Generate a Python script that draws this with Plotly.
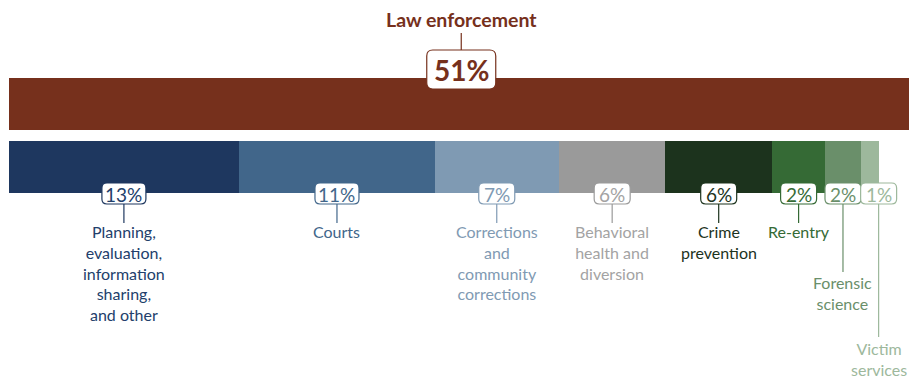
import plotly.graph_objects as go

# ---------------- data ----------------
top_category = "Law enforcement"
top_share = 51
top_pct_label = "51%"

categories = [
    "Planning,<br>evaluation,<br>information<br>sharing,<br>and other",
    "Courts",
    "Corrections<br>and<br>community<br>corrections",
    "Behavioral<br>health and<br>diversion",
    "Crime<br>prevention",
    "Re-entry",
    "Forensic<br>science",
    "Victim<br>services",
]
shares = [13, 11, 7, 6, 6, 3, 2, 1]
pct_labels = ["13%", "11%", "7%", "6%", "6%", "2%", "2%", "1%"]

# ---------------- styles ----------------
top_color = "#76301C"
seg_colors = ["#1E375F", "#41668A", "#7F9AB3", "#9A9A9A", "#1C331D", "#356A35", "#6A8F6A", "#9DB89C"]
text_colors = ["#22406B", "#41668A", "#7F9AB3", "#A3A3A3", "#1C331D", "#356A35", "#6A8F6A", "#9DB89C"]
FONT = "Lato, 'Open Sans', sans-serif"

W, H = 909, 381
X0PX = 8.5
PX = 17.755  # pixels per percentage point
xr = [-X0PX / PX, (W - X0PX) / PX]

TOP_Y, ROW_Y, BAR_H = 104, 167, 52
line_end = [223, 223, 223, 223, 223, 223, 272, 337]
text_top = [219.5, 219.5, 219.5, 219.5, 219.5, 219.5, 271, 337]
pill_nudge_px = [0, 0, 0, 0, 0, 0, 0, 9]

fig = go.Figure()

# top bar
fig.add_trace(go.Bar(orientation="h", y=[TOP_Y], x=[top_share], base=[0], width=BAR_H,
                     marker=dict(color=top_color, line=dict(width=0)), hoverinfo="skip", showlegend=False))

# second row stacked segments
bases = []
acc = 0
for s in shares:
    bases.append(acc)
    acc += s
for i, (s, b) in enumerate(zip(shares, bases)):
    fig.add_trace(go.Bar(orientation="h", y=[ROW_Y], x=[s], base=[b], width=BAR_H,
                         marker=dict(color=seg_colors[i], line=dict(width=0)),
                         hoverinfo="skip", showlegend=False))


def rrect(cx_px, cy, w, h, r):
    x0 = (cx_px - X0PX - w / 2) / PX
    x1 = (cx_px - X0PX + w / 2) / PX
    rx = r / PX
    y0, y1 = cy - h / 2, cy + h / 2
    return (f"M {x0+rx},{y0} L {x1-rx},{y0} Q {x1},{y0} {x1},{y0+r} "
            f"L {x1},{y1-r} Q {x1},{y1} {x1-rx},{y1} L {x0+rx},{y1} "
            f"Q {x0},{y1} {x0},{y1-r} L {x0},{y0+r} Q {x0},{y0} {x0+rx},{y0} Z")


shapes = []
annotations = []

# top label
top_cx = top_share / 2
top_cx_px = X0PX + top_cx * PX
shapes.append(dict(type="line", xref="x", yref="y", x0=top_cx, x1=top_cx, y0=33, y1=50,
                   line=dict(color=top_color, width=1.2), layer="above"))
shapes.append(dict(type="path", xref="x", yref="y", path=rrect(top_cx_px, 69.5, 69, 39, 6),
                   fillcolor="white", line=dict(color=top_color, width=1.2), layer="above"))
annotations.append(dict(x=top_cx, y=70, xref="x", yref="y", text=f"<b>{top_pct_label}</b>",
                        showarrow=False, xanchor="center", yanchor="middle",
                        font=dict(family=FONT, size=28, color=top_color)))
annotations.append(dict(x=top_cx, y=19.5, xref="x", yref="y", text=f"<b>{top_category}</b>",
                        showarrow=False, xanchor="center", yanchor="middle",
                        font=dict(family=FONT, size=19.5, color=top_color)))

# second-row labels
for i, (s, b) in enumerate(zip(shares, bases)):
    cx = b + s / 2 + pill_nudge_px[i] / PX
    cx_px = X0PX + cx * PX
    pw = 44 if len(pct_labels[i]) > 2 else 36
    shapes.append(dict(type="line", xref="x", yref="y", x0=cx, x1=cx, y0=204, y1=line_end[i],
                       line=dict(color=seg_colors[i], width=1.2), layer="above"))
    shapes.append(dict(type="path", xref="x", yref="y", path=rrect(cx_px, 193.5, pw, 21, 5),
                       fillcolor="white", line=dict(color=seg_colors[i], width=1.2), layer="above"))
    annotations.append(dict(x=cx, y=194, xref="x", yref="y", text=pct_labels[i],
                            showarrow=False, xanchor="center", yanchor="middle",
                            font=dict(family=FONT, size=19, color=text_colors[i])))
    annotations.append(dict(x=cx, y=text_top[i], xref="x", yref="y", text=categories[i],
                            showarrow=False, xanchor="center", yanchor="top", align="center",
                            font=dict(family=FONT, size=16, color=text_colors[i])))

fig.update_layout(
    width=W, height=H, margin=dict(l=0, r=0, t=0, b=0),
    paper_bgcolor="white", plot_bgcolor="white",
    barmode="overlay", bargap=0,
    xaxis=dict(range=xr, visible=False, fixedrange=True),
    yaxis=dict(range=[H, 0], visible=False, fixedrange=True),
    shapes=shapes, annotations=annotations,
)

fig.write_html("out.html")
